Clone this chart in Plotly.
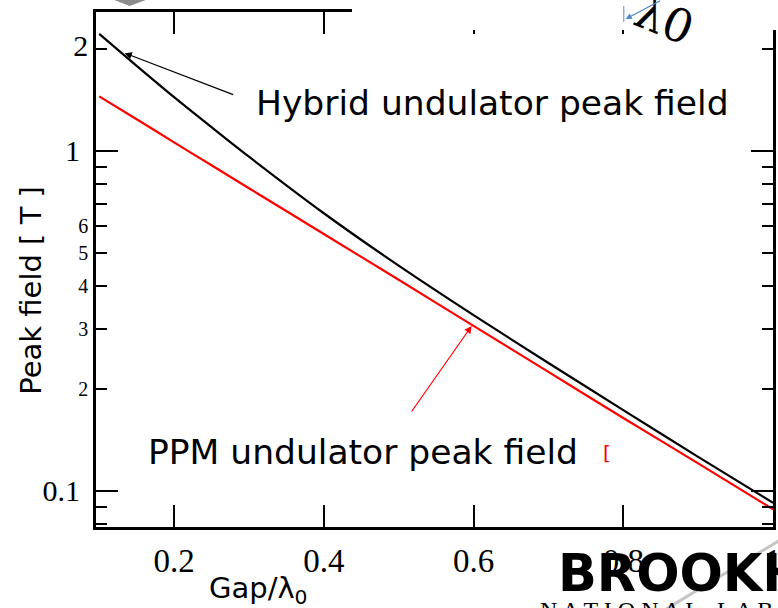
import math
import plotly.graph_objects as go

# ---- data ----
gap = [0.1, 0.15, 0.2, 0.25, 0.3, 0.4, 0.5, 0.6, 0.7, 0.8, 0.9, 1.0]
hybrid_field = [2.21, 1.78, 1.44, 1.175, 0.962, 0.656, 0.460, 0.329, 0.238, 0.173, 0.126, 0.0923]
ppm_field = [1.447, 1.24, 1.06, 0.908, 0.777, 0.570, 0.418, 0.306, 0.224, 0.164, 0.1206, 0.0884]

x_ticks = [0.2, 0.4, 0.6, 0.8, 1.0]
x_ticktext = ["0.2", "0.4", "0.6", "0.8", "1"]
y_short_ticks = [0.08, 0.09, 0.2, 0.3, 0.4, 0.5, 0.6, 0.7, 0.8, 0.9, 2]
y_short_text = ["", "", "2", "3", "4", "5", "6", "", "", "", "2"]
y_long_ticks = [0.1, 1]
y_long_text = ["0.1", "1"]

X_RANGE = [0.0957, 1.0]
Y_RANGE = [-1.1059, 0.4088]

W, H = 790, 608
ML, MR, MT, MB = 96, W - 781, 12, 608 - 527
PW, PH = W - ML - MR, H - MT - MB


def pxx(xp):
    return (xp - ML) / PW


def pxy(yp):
    return (H - MB - yp) / PH


SERIF = "Liberation Serif"
SANS = "DejaVu Sans"

fig = go.Figure()
fig.add_trace(go.Scatter(x=gap, y=hybrid_field, mode="lines",
                         line=dict(color="black", width=2.2, shape="spline", smoothing=0.8),
                         showlegend=False))
fig.add_trace(go.Scatter(x=gap, y=ppm_field, mode="lines",
                         line=dict(color="#ff0000", width=2.2, shape="spline", smoothing=0.8),
                         showlegend=False))

short_labels = []
for v, t in zip(y_short_ticks, y_short_text):
    if v == 2:
        short_labels.append('<span style="font-size:30px">%s</span>' % t)
    else:
        short_labels.append(t)

fig.update_layout(
    width=W, height=H,
    margin=dict(l=ML, r=MR, t=MT, b=MB, pad=0),
    paper_bgcolor="white", plot_bgcolor="white",
    showlegend=False,
    xaxis=dict(range=X_RANGE, tickvals=x_ticks, ticktext=x_ticktext,
               ticks="inside", ticklen=22, tickwidth=2, tickcolor="black",
               showline=True, linewidth=2.5, linecolor="black", mirror="ticks",
               showgrid=False, zeroline=False,
               tickfont=dict(family=SERIF, size=33, color="black"),
               ticklabelstandoff=3),
    yaxis=dict(type="log", range=Y_RANGE, tickvals=y_short_ticks, ticktext=short_labels,
               ticks="inside", ticklen=11, tickwidth=2, tickcolor="black",
               showline=True, linewidth=2.5, linecolor="black", mirror="ticks",
               showgrid=False, zeroline=False,
               tickfont=dict(family=SERIF, size=20, color="black"),
               ticklabelstandoff=1),
    yaxis2=dict(type="log", range=Y_RANGE, overlaying="y", anchor="x", side="left",
                tickvals=y_long_ticks, ticktext=y_long_text,
                ticks="inside", ticklen=22, tickwidth=2, tickcolor="black",
                showline=False, mirror="ticks", showgrid=False, zeroline=False,
                tickfont=dict(family=SERIF, size=30, color="black"),
                ticklabelstandoff=15),
)

# invisible trace to keep yaxis2 alive
fig.add_trace(go.Scatter(x=[None], y=[None], yaxis="y2", showlegend=False))

shapes = []
# white mask over the top frame on the right (slide overlay)
shapes.append(dict(type="rect", xref="paper", yref="paper", layer="above",
                   x0=pxx(355), x1=pxx(800), y0=pxy(30), y1=pxy(-5),
                   fillcolor="white", line=dict(width=0)))
# grey triangle at the top-left
shapes.append(dict(type="path", xref="paper", yref="paper", layer="above",
                   path="M %f,%f L %f,%f L %f,%f Z" % (pxx(112), pxy(-1), pxx(149), pxy(-1), pxx(130), pxy(6)),
                   fillcolor="#8c8c8c", line=dict(width=0)))
# grey diagonal line of the logo
shapes.append(dict(type="line", xref="paper", yref="paper", layer="above",
                   x0=pxx(668), y0=pxy(612), x1=pxx(795), y1=pxy(536),
                   line=dict(color="#c4c4c4", width=3)))
# small blue tick near lambda
shapes.append(dict(type="line", xref="paper", yref="paper", layer="above",
                   x0=pxx(630), y0=pxy(6), x1=pxx(630), y1=pxy(22),
                   line=dict(color="#6f9fd8", width=1.2)))
fig.update_layout(shapes=shapes)

ann = []
ann.append(dict(text="Hybrid undulator peak field", xref="paper", yref="paper",
                x=pxx(256), y=pxy(103), xanchor="left", yanchor="middle", showarrow=False,
                font=dict(family=SANS, size=34.5, color="black")))
ann.append(dict(text="PPM undulator peak field", xref="paper", yref="paper",
                x=pxx(147), y=pxy(452), xanchor="left", yanchor="middle", showarrow=False,
                font=dict(family=SANS, size=34.5, color="black")))
ann.append(dict(text="[", xref="paper", yref="paper",
                x=pxx(613), y=pxy(453), xanchor="center", yanchor="middle", showarrow=False,
                font=dict(family=SANS, size=20, color="#ff0000")))
ann.append(dict(text="Peak field [ T ]", xref="paper", yref="paper", textangle=-90,
                x=pxx(30), y=pxy(290), xanchor="center", yanchor="middle", showarrow=False,
                font=dict(family=SANS, size=29, color="black")))
ann.append(dict(text="Gap/λ<sub>0</sub>", xref="paper", yref="paper",
                x=pxx(260), y=pxy(590), xanchor="center", yanchor="middle", showarrow=False,
                font=dict(family=SANS, size=29, color="black")))
# arrows
ann.append(dict(text="", x=0.134, y=math.log10(1.94), xref="x", yref="y",
                showarrow=True, ax=110, ay=42, arrowhead=2, arrowsize=1.2,
                arrowwidth=1.2, arrowcolor="black"))
ann.append(dict(text="", x=0.5974, y=-0.5147, xref="x", yref="y",
                showarrow=True, ax=-61, ay=87, arrowhead=2, arrowsize=1.2,
                arrowwidth=1.2, arrowcolor="#ff0000"))
# lambda_0 decoration
ann.append(dict(text="λ0", xref="paper", yref="paper", textangle=22,
                x=pxx(671), y=pxy(20), xanchor="center", yanchor="middle", showarrow=False,
                font=dict(family="DejaVu Serif", size=46, color="black")))
ann.append(dict(text="", xref="paper", yref="paper", x=pxx(632), y=pxy(19),
                showarrow=True, ax=36, ay=-22, arrowhead=2, arrowsize=1,
                arrowwidth=1.2, arrowcolor="#4a86c8"))
# logo
ann.append(dict(text="<b>BROOKHAVEN</b>", xref="paper", yref="paper",
                x=pxx(561), y=pxy(573), xanchor="left", yanchor="middle", showarrow=False,
                font=dict(family=SANS, size=51, color="black")))
ann.append(dict(text="N A T I O N A L   L A B O R A T O R Y", xref="paper", yref="paper",
                x=pxx(543), y=pxy(595), xanchor="left", yanchor="top", showarrow=False,
                font=dict(family=SERIF, size=24, color="black")))
fig.update_layout(annotations=ann)

fig.write_html("out.html",
               post_script="document.body.style.overflow='hidden';"
                           "document.documentElement.style.overflow='hidden';"
                           "document.body.style.margin='0';")
